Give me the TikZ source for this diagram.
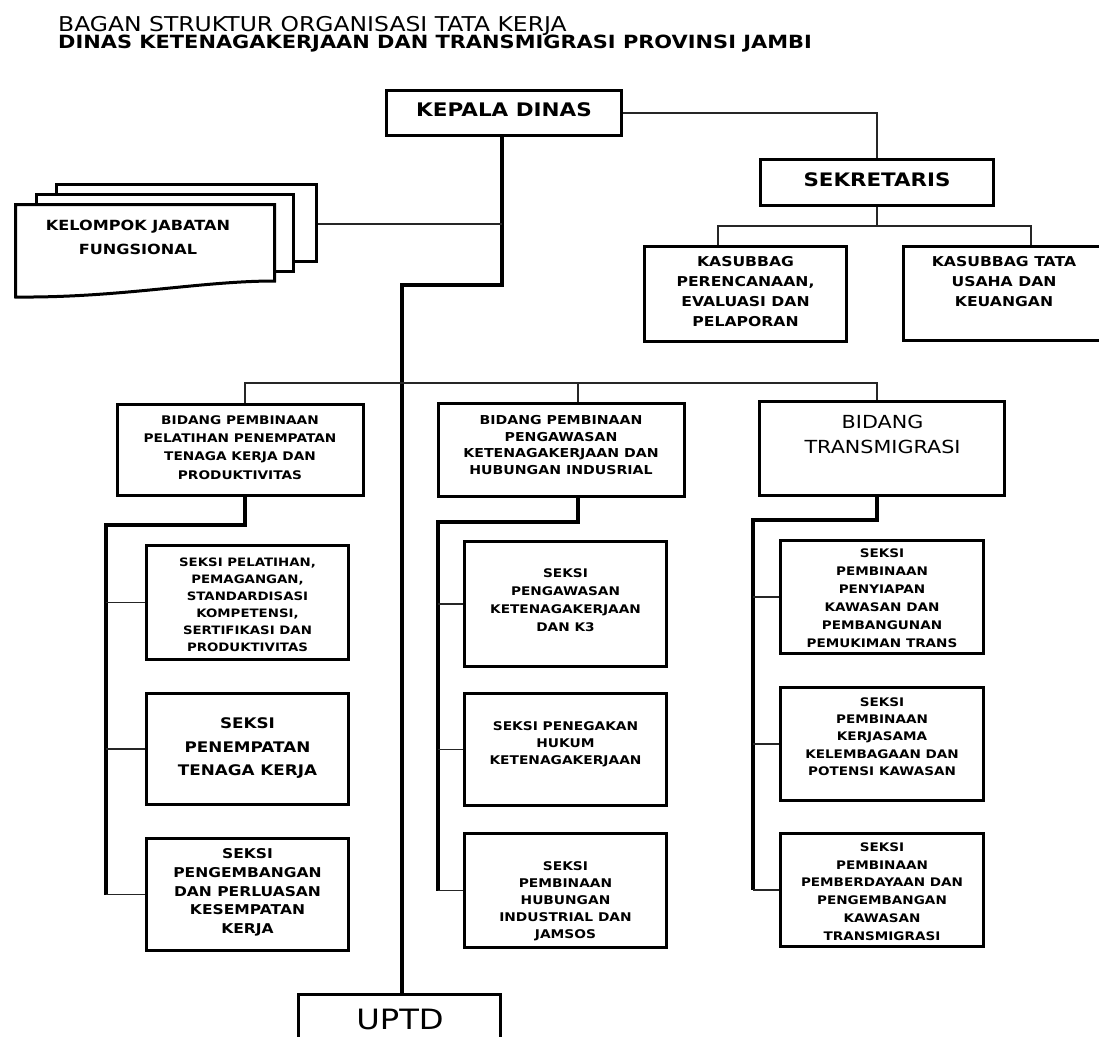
\documentclass[tikz,border=0pt]{standalone}
\usepackage{fontspec}
\setmainfont[FakeStretch=1.15]{DejaVu Sans}
\usetikzlibrary{fit}
\newcommand{\setfs}[2]{\fontsize{#1}{#2}\selectfont}
\begin{document}
\begin{tikzpicture}[x=1pt,y=-1pt,
  boxn/.style={draw=black, line width=3pt, fill=white, inner sep=0pt},
  tl/.style={anchor=center, align=center, inner sep=0pt, text=black},
  thk/.style={draw=black, line width=3.2pt},
  thn/.style={draw=black!85, line width=1.8pt},
]
\useasboundingbox (0,0) rectangle (1099,1036);
\fill[white] (0,0) rectangle (1099,1036);

% title
\node[anchor=base west, inner sep=0pt, font=\setfs{20.4}{24}] (title1) at (58,31) {BAGAN STRUKTUR ORGANISASI TATA KERJA};
\node[anchor=base west, inner sep=0pt, font=\bfseries\setfs{18.2}{22}] (title2) at (58,48) {DINAS KETENAGAKERJAAN DAN TRANSMIGRASI PROVINSI JAMBI};

% boxes
\node[boxn, fit={(386.5,90.5) (621.5,135.5)}] (kd) {};
\node[boxn, fit={(760.5,159.5) (993.5,205.5)}] (sek) {};
\node[boxn, fit={(644.5,246.5) (846.5,341.5)}] (kas1) {};
\node[boxn, fit={(903.5,246.5) (1108.5,340.5)}] (kas2) {};
\node[boxn, fit={(56.5,184.5) (316.5,261.5)}] (kelB) {};
\node[boxn, fit={(36.5,194.5) (293.5,271.5)}] (kelM) {};
\draw[line width=3pt, fill=white] (15.5,204.5) -- (274.5,204.5) -- (274.5,281)
  .. controls (200,281) and (120,298) .. (15.5,297) -- cycle;
\node[boxn, fit={(117.5,404.5) (363.5,495.5)}] (bid1) {};
\node[boxn, fit={(438.5,403.5) (684.5,496.5)}] (bid2) {};
\node[boxn, fit={(759.5,401.5) (1004.5,495.5)}] (bid3) {};
\node[boxn, fit={(146.5,545.5) (348.5,659.5)}] (s11) {};
\node[boxn, fit={(146.5,693.5) (348.5,804.5)}] (s12) {};
\node[boxn, fit={(146.5,838.5) (348.5,950.5)}] (s13) {};
\node[boxn, fit={(464.5,541.5) (666.5,666.5)}] (s21) {};
\node[boxn, fit={(464.5,693.5) (666.5,805.5)}] (s22) {};
\node[boxn, fit={(464.5,833.5) (666.5,947.5)}] (s23) {};
\node[boxn, fit={(780.5,540.5) (983.5,653.5)}] (s31) {};
\node[boxn, fit={(780.5,687.5) (983.5,800.5)}] (s32) {};
\node[boxn, fit={(780.5,833.5) (983.5,946.5)}] (s33) {};
\node[boxn, fit={(298.5,994.5) (500.5,1060)}] (uptd) {};

% connectors
\coordinate (kdj) at (502,224);
\coordinate (j1) at (502,285);
\coordinate (j2) at (402,285);
\draw[thk] (kd.south -| j1) -- (j1) -- (j2) -- (j2 |- uptd.north);
\draw[thn] (kelB.east |- kdj) -- (kdj);
\draw[thn] (kd.east) -| (sek.north);
\coordinate (k1) at (718,226);
\coordinate (k2) at (1031,226);
\draw[thn] (sek.south) -- (sek.south |- k1);
\draw[thn] (k1 |- kas1.north) -- (k1) -- (k2) -- (k2 |- kas2.north);
\coordinate (b1) at (245,383);
\coordinate (b2) at (578,383);
\coordinate (b3) at (877,383);
\draw[thn] (b1 |- bid1.north) -- (b1) -- (b3) -- (b3 |- bid3.north);
\draw[thn] (b2) -- (b2 |- bid2.north);

\coordinate (c1) at (245,525);
\coordinate (c1l) at (106,525);
\draw[thk] (b1 |- bid1.south) -- (c1) -- (c1l) -- (c1l |- s13.west);
\draw[thn] (c1l |- s11.west) -- (s11.west);
\draw[thn] (c1l |- s12.west) -- (s12.west);
\draw[thn] (c1l |- s13.west) -- (s13.west);
\coordinate (c2) at (578,522);
\coordinate (c2l) at (438,522);
\draw[thk] (b2 |- bid2.south) -- (c2) -- (c2l) -- (c2l |- s23.west);
\draw[thn] (c2l |- s21.west) -- (s21.west);
\draw[thn] (c2l |- s22.west) -- (s22.west);
\draw[thn] (c2l |- s23.west) -- (s23.west);
\coordinate (c3) at (877,520);
\coordinate (c3l) at (753,520);
\draw[thk] (b3 |- bid3.south) -- (c3) -- (c3l) -- (c3l |- s33.west);
\draw[thn] (c3l |- s31.west) -- (s31.west);
\draw[thn] (c3l |- s32.west) -- (s32.west);
\draw[thn] (c3l |- s33.west) -- (s33.west);

% texts
\node[tl, font=\bfseries\setfs{18.7}{22}] (kd-t) at (504,110) {KEPALA DINAS};
\node[tl, font=\bfseries\setfs{18.6}{22}] (sek-t) at (877,180) {SEKRETARIS};
\node[tl, font=\bfseries\setfs{13.6}{20}] (kas1-t) at (745.5,292) {KASUBBAG\\PERENCANAAN,\\EVALUASI DAN\\PELAPORAN};
\node[tl, font=\bfseries\setfs{13.6}{20}] (kas2-t) at (1004,282) {KASUBBAG TATA\\USAHA DAN\\KEUANGAN};
\node[tl, font=\bfseries\setfs{14}{24}] (kel-t) at (138,237) {KELOMPOK JABATAN\\FUNGSIONAL};
\node[tl, font=\bfseries\setfs{11.9}{18.3}] (bid1-t) at (240,447.5) {BIDANG PEMBINAAN\\PELATIHAN PENEMPATAN\\TENAGA KERJA DAN\\PRODUKTIVITAS};
\node[tl, font=\bfseries\setfs{12.3}{16.7}] (bid2-t) at (561,445) {BIDANG PEMBINAAN\\PENGAWASAN\\KETENAGAKERJAAN DAN\\HUBUNGAN INDUSRIAL};
\node[tl, font=\setfs{18}{25}] (bid3-t) at (882.5,434.5) {BIDANG\\TRANSMIGRASI};
\node[tl, font=\bfseries\setfs{11.6}{17}] (s11-t) at (247.5,604.5) {SEKSI PELATIHAN,\\PEMAGANGAN,\\STANDARDISASI\\KOMPETENSI,\\SERTIFIKASI DAN\\PRODUKTIVITAS};
\node[tl, font=\bfseries\setfs{14.6}{23.5}] (s12-t) at (247.5,748.5) {SEKSI\\PENEMPATAN\\TENAGA KERJA};
\node[tl, font=\bfseries\setfs{13.5}{18.75}] (s13-t) at (247.5,892.5) {SEKSI\\PENGEMBANGAN\\DAN PERLUASAN\\KESEMPATAN\\KERJA};
\node[tl, font=\bfseries\setfs{11.9}{18}] (s21-t) at (565.5,600) {SEKSI\\PENGAWASAN\\KETENAGAKERJAAN\\DAN K3};
\node[tl, font=\bfseries\setfs{12}{17}] (s22-t) at (565.5,744) {SEKSI PENEGAKAN\\HUKUM\\KETENAGAKERJAAN};
\node[tl, font=\bfseries\setfs{12}{17}] (s23-t) at (565.5,901) {SEKSI\\PEMBINAAN\\HUBUNGAN\\INDUSTRIAL DAN\\JAMSOS};
\node[tl, font=\bfseries\setfs{11.8}{18}] (s31-t) at (882,598) {SEKSI\\PEMBINAAN\\PENYIAPAN\\KAWASAN DAN\\PEMBANGUNAN\\PEMUKIMAN TRANS};
\node[tl, font=\bfseries\setfs{11.8}{17.25}] (s32-t) at (882,736.5) {SEKSI\\PEMBINAAN\\KERJASAMA\\KELEMBAGAAN DAN\\POTENSI KAWASAN};
\node[tl, font=\bfseries\setfs{11.8}{17.8}] (s33-t) at (882,891.5) {SEKSI\\PEMBINAAN\\PEMBERDAYAAN DAN\\PENGEMBANGAN\\KAWASAN\\TRANSMIGRASI};
\node[tl, font=\setfs{28}{32}] (uptd-t) at (400,1019) {UPTD};
\end{tikzpicture}
\end{document}
